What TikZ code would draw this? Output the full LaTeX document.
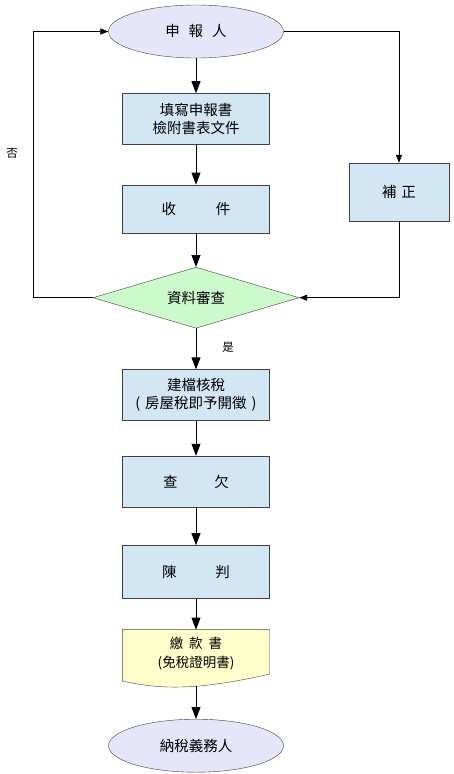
\documentclass[tikz,border=0pt]{standalone}
\usepackage{fontspec}
\setmainfont{Noto Sans CJK TC}
\usetikzlibrary{shapes.geometric, arrows.meta, positioning, backgrounds}
\definecolor{boxblue}{HTML}{D2E6F4}
\definecolor{ovallilac}{HTML}{E6E6FA}
\definecolor{diagreen}{HTML}{CCFACC}
\definecolor{docyellow}{HTML}{FFFFCC}
\definecolor{edgegray}{HTML}{404040}

\begin{document}
\begin{tikzpicture}[
    x=1pt, y=1pt,
    box/.style={rectangle, draw=edgegray, fill=boxblue, minimum width=147pt, minimum height=51pt, align=center, inner sep=2pt},
    party/.style={ellipse, draw=edgegray, fill=ovallilac, minimum width=175pt, minimum height=53pt, inner sep=0pt},
    check/.style={diamond, draw=edgegray, fill=diagreen, aspect=3.4, minimum width=206pt, minimum height=61pt, inner sep=0pt},
    paper/.style={rectangle, minimum width=147pt, minimum height=48pt, align=center, inner sep=0pt},
    arrow/.style={-{Triangle[length=12pt, width=9pt]}, line width=0.8pt},
    loop/.style={-{Triangle[length=8pt, width=6pt]}, line width=0.6pt},
    note/.style={font=\fontsize{11.5pt}{13pt}\selectfont},
    every node/.append style={font=\fontsize{14.5pt}{18pt}\selectfont}
]
    \useasboundingbox (0,0) rectangle (454,-774);

    % Main column
    \node[party] (filer) at (196,-31.5) {申\hspace{9pt}報\hspace{9pt}人};
    \node[box, below=35pt of filer] (fill) {填寫申報書\\檢附書表文件};
    \node[box, minimum height=48pt, below=40pt of fill] (receive) {收\hspace{40pt}件};
    \node[check, below=34pt of receive] (review) {資料審查};
    \node[box, below=41pt of review] (assess) {建檔核稅\\(\hspace{5pt}房屋稅即予開徵\hspace{5pt})};
    \node[box, below=35pt of assess] (arrears) {查\hspace{37pt}欠};
    \node[box, minimum height=53pt, below=38pt of arrears] (decide) {陳\hspace{39pt}判};
    \node[paper, below=31pt of decide, font=\fontsize{13.5pt}{19pt}\selectfont] (bill) {繳\hspace{6pt}款\hspace{6pt}書\\(免稅證明書)};
    \node[party, below=41pt of bill] (payer) {納稅義務人};

    % Side box
    \node[box, minimum width=100pt, minimum height=58pt] (amend) at (399,-192) {補\hspace{5pt}正};

    % Document outline
    \begin{scope}[on background layer]
        \draw[draw=edgegray, fill=docyellow] (bill.north west) -- (bill.north east) -- ([yshift=4pt]bill.south east)
            .. controls ([xshift=-70pt, yshift=-12pt]bill.south east) and ([xshift=40pt, yshift=-12pt]bill.south west) .. ([yshift=-3pt]bill.south west) -- cycle;
    \end{scope}
    \coordinate (billend) at ([yshift=-8pt]bill.south);

    % Connections
    \draw[arrow] (filer) -- (fill);
    \draw[arrow] (fill) -- (receive);
    \draw[arrow] (receive) -- (review);
    \draw[arrow] (review) -- (assess);
    \draw[arrow] (assess) -- (arrears);
    \draw[arrow] (arrears) -- (decide);
    \draw[arrow] (decide) -- (bill);
    \draw[arrow] (billend) -- (payer);

    % Loops
    \coordinate (nobend) at ([xshift=-60pt]review.west);
    \draw[loop] (review.west) -- (nobend) |- (filer.west);
    \draw[loop] (filer.east) -| (amend.north);
    \draw[loop] (amend.south) |- (review.east);

    % Labels
    \node[note] (nolabel) at (12,-153) {否};
    \node[note] (yeslabel) at (228,-347) {是};

\end{tikzpicture}
\end{document}
